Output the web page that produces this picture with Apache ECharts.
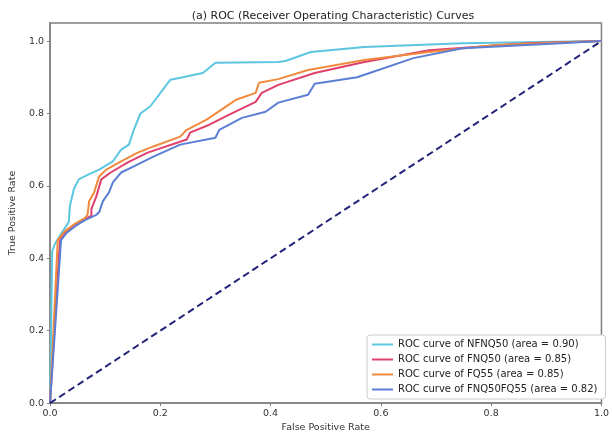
<!DOCTYPE html>
<html>
<head>
<meta charset="utf-8">
<script src="https://cdn.jsdelivr.net/npm/echarts@6/dist/echarts.min.js"></script>
<style>
  html, body { margin: 0; padding: 0; background: #fff; }
  #main { width: 612px; height: 438px; }
</style>
</head>
<body>
<div id="main"></div>
<script>
// ROC curves
var nfnq50Fpr = [0, 0.004, 0.009, 0.021, 0.034, 0.036, 0.043, 0.052, 0.07, 0.089, 0.114, 0.129, 0.143, 0.152, 0.164, 0.182, 0.218, 0.241, 0.277, 0.30, 0.414, 0.427, 0.473, 0.57, 0.748, 1];
var nfnq50Tpr = [0, 0.42, 0.44, 0.47, 0.50, 0.544, 0.59, 0.618, 0.632, 0.645, 0.668, 0.70, 0.714, 0.755, 0.80, 0.82, 0.893, 0.90, 0.912, 0.94, 0.942, 0.945, 0.97, 0.984, 0.994, 1];

var fnq50Fpr = [0, 0.018, 0.027, 0.045, 0.0625, 0.075, 0.075, 0.084, 0.093, 0.11, 0.141, 0.177, 0.248, 0.254, 0.289, 0.325, 0.373, 0.384, 0.414, 0.48, 0.57, 0.6875, 0.866, 1];
var fnq50Tpr = [0, 0.45, 0.47, 0.49, 0.508, 0.517, 0.536, 0.571, 0.618, 0.637, 0.665, 0.692, 0.728, 0.747, 0.769, 0.797, 0.832, 0.857, 0.879, 0.912, 0.942, 0.975, 0.994, 1];

var fq55Fpr = [0, 0.014, 0.027, 0.045, 0.0625, 0.068, 0.071, 0.08, 0.089, 0.102, 0.129, 0.159, 0.1875, 0.236, 0.248, 0.284, 0.325, 0.3375, 0.373, 0.379, 0.414, 0.468, 0.57, 0.6875, 0.807, 1];
var fq55Tpr = [0, 0.45, 0.475, 0.495, 0.51, 0.52, 0.558, 0.582, 0.626, 0.645, 0.668, 0.692, 0.709, 0.736, 0.755, 0.783, 0.825, 0.838, 0.857, 0.885, 0.895, 0.92, 0.948, 0.97, 0.989, 1];

var fnq50fq55Fpr = [0, 0.02, 0.03, 0.045, 0.0625, 0.084, 0.089, 0.096, 0.107, 0.114, 0.129, 0.152, 0.1875, 0.236, 0.30, 0.307, 0.348, 0.391, 0.414, 0.468, 0.48, 0.557, 0.659, 0.748, 0.927, 1];
var fnq50fq55Tpr = [0, 0.45, 0.47, 0.488, 0.505, 0.52, 0.527, 0.558, 0.582, 0.61, 0.637, 0.654, 0.681, 0.714, 0.733, 0.755, 0.788, 0.805, 0.83, 0.852, 0.882, 0.90, 0.953, 0.98, 0.994, 1];

var chanceFpr = [0, 1];
var chanceTpr = [0, 1];

var seriesNames = [
    'ROC curve of NFNQ50 (area = 0.90)',
    'ROC curve of FNQ50 (area = 0.85)',
    'ROC curve of FQ55 (area = 0.85)',
    'ROC curve of FNQ50FQ55 (area = 0.82)'
];
var seriesColors = ['#5cc6e0', '#e0406c', '#f08a3c', '#5b7fd4'];

function pairs(xs, ys) {
    var out = [];
    for (var i = 0; i < xs.length; i++) {
        out.push([xs[i], ys[i]]);
    }
    return out;
}

var curves = [
    pairs(nfnq50Fpr, nfnq50Tpr),
    pairs(fnq50Fpr, fnq50Tpr),
    pairs(fq55Fpr, fq55Tpr),
    pairs(fnq50fq55Fpr, fnq50fq55Tpr)
];

var series = [];
for (var k = 0; k < curves.length; k++) {
    series.push({
        name: seriesNames[k],
        type: 'line',
        data: curves[k],
        showSymbol: false,
        symbol: 'none',
        color: seriesColors[k],
        lineStyle: { width: 2, color: seriesColors[k] },
        z: 2 + k
    });
}
// chance line
series.push({
    name: 'chance',
    type: 'line',
    data: pairs(chanceFpr, chanceTpr),
    showSymbol: false,
    symbol: 'none',
    lineStyle: { width: 2, color: '#23237a', type: [7, 4] },
    z: 10
});

var chart = echarts.init(document.getElementById('main'));
var fmt = function (v) { return v.toFixed(1); };
var option = {
    animation: false,
    textStyle: { fontFamily: 'DejaVu Sans' },
    title: {
        text: '(a) ROC (Receiver Operating Characteristic) Curves',
        left: 328,
        textAlign: 'center',
        top: 6,
        textStyle: { fontSize: 11, fontWeight: 'normal', color: '#222', fontFamily: 'DejaVu Sans' }
    },
    grid: {
        left: 48, right: 4, top: 23, bottom: 33,
        show: true, borderColor: '#808080', borderWidth: 1.5,
        containLabel: false
    },
    legend: {
        data: seriesNames,
        orient: 'vertical',
        left: 367,
        top: 335,
        padding: [4, 8, 4, 5],
        itemGap: 4,
        itemWidth: 21,
        itemHeight: 2,
        icon: 'rect',
        backgroundColor: '#fff',
        borderColor: '#cccccc',
        borderWidth: 1,
        borderRadius: 3,
        textStyle: { fontSize: 10, color: '#222', lineHeight: 11, fontFamily: 'DejaVu Sans' }
    },
    xAxis: {
        type: 'value',
        min: 0, max: 1, interval: 0.2,
        name: 'False Positive Rate',
        nameLocation: 'middle',
        nameGap: 19,
        nameTextStyle: { fontSize: 9.5, color: '#333' },
        axisLine: { show: true, lineStyle: { color: '#808080', width: 1.5 } },
        axisTick: { show: true, length: 3, lineStyle: { color: '#808080' } },
        axisLabel: { fontSize: 9.5, color: '#333', margin: 5, formatter: fmt },
        splitLine: { show: false }
    },
    yAxis: {
        type: 'value',
        min: 0, max: 1.05, interval: 0.2,
        name: 'True Positive Rate',
        nameLocation: 'middle',
        nameGap: 31,
        nameTextStyle: { fontSize: 9.5, color: '#333' },
        axisLine: { show: true, lineStyle: { color: '#808080', width: 1.5 } },
        axisTick: { show: true, length: 3, lineStyle: { color: '#808080' } },
        axisLabel: { fontSize: 9.5, color: '#333', margin: 6, showMaxLabel: false, formatter: fmt },
        splitLine: { show: false }
    },
    series: series
};
chart.setOption(option);
</script>
</body>
</html>
